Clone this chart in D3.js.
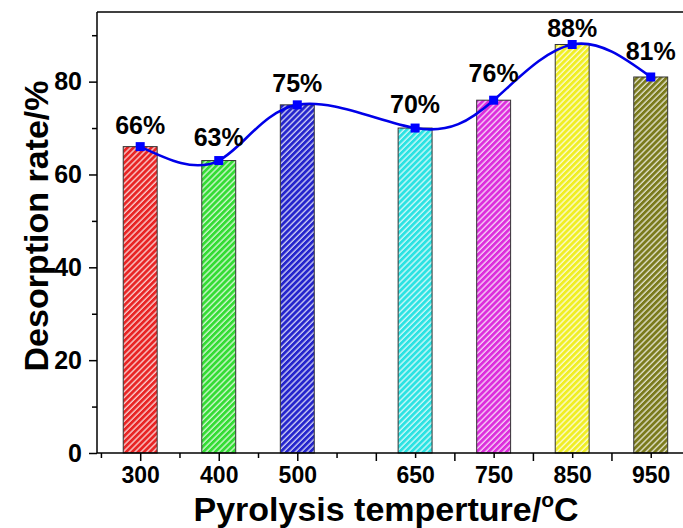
<!DOCTYPE html>
<html>
<head>
<meta charset="utf-8">
<script src="https://cdn.jsdelivr.net/npm/d3@7"></script>
<style>
  body { margin: 0; background: #fff; }
  text { font-family: Arial, "Liberation Sans", sans-serif; font-weight: bold; }
</style>
</head>
<body>
<div id="chart"></div>
<script>
// pyrolysis temperature (°C) and desorption rate (%)
const temps = [300, 400, 500, 650, 750, 850, 950];
const rates = [66, 63, 75, 70, 76, 88, 81];
const barColors = ["#e82424", "#34dc34", "#2424cc", "#2ce2e2", "#dc2edc", "#f0ee24", "#7a7a1c"];
const labelDy = [13, 15, 13, 15, 18, 7, 17];
const yTickValues = [0, 10, 20, 30, 40, 50, 60, 70, 80, 90];
const xTickValues = [250, 300, 350, 400, 450, 500, 550, 600, 650, 700, 750, 800, 850, 900, 950];

const W = 683, H = 528;
const margin = ({ top: 12, right: -7, bottom: 75, left: 97 });

const svg = d3.select("#chart").append("svg")
    .attr("width", W)
    .attr("height", H);

const xScale = d3.scaleLinear()
    .domain([245, 1000])
    .range([margin.left, W - margin.right]);

const yScale = d3.scaleLinear()
    .domain([0, 95])
    .range([H - margin.bottom, margin.top]);

const data = temps.map((t, i) => ({ t: t, r: rates[i], c: barColors[i], dy: labelDy[i] }));

// hatch patterns
const defs = svg.append("defs");
data.forEach((d, i) => {
    const p = defs.append("pattern")
        .attr("id", "hatch" + i)
        .attr("patternUnits", "userSpaceOnUse")
        .attr("width", 4.2)
        .attr("height", 4.2)
        .attr("patternTransform", "rotate(45)");
    p.append("rect")
        .attr("width", 4.2)
        .attr("height", 4.2)
        .attr("fill", d3.interpolateRgb(d.c, "#fff")(0.75));
    p.append("line")
        .attr("x1", 1.4).attr("x2", 1.4)
        .attr("y1", 0).attr("y2", 4.2)
        .attr("stroke", d.c)
        .attr("stroke-width", 2.8);
});

const halfBar = 21.6; // in temperature units

svg.append("g")
    .selectAll("rect")
    .data(data)
    .join("rect")
    .attr("x", d => xScale(d.t - halfBar))
    .attr("width", d => xScale(d.t + halfBar) - xScale(d.t - halfBar))
    .attr("y", d => yScale(d.r))
    .attr("height", d => yScale(0) - yScale(d.r))
    .attr("fill", (d, i) => `url(#hatch${i})`)
    .attr("stroke", "#333")
    .attr("stroke-width", 1);

// axes
const xAxis = d3.axisBottom(xScale)
    .tickValues(xTickValues)
    .tickSizeOuter(0)
    .tickFormat(d => d);

const gx = svg.append("g")
    .attr("transform", `translate(0, ${yScale(0)})`)
    .call(xAxis);
gx.select(".domain").attr("stroke-width", 1.5).attr("d", `M${margin.left},0H${W}`);
gx.selectAll(".tick line")
    .attr("stroke-width", 1.5)
    .attr("y2", d => d % 100 === 0 ? 8 : 5);
gx.selectAll(".tick text")
    .filter(d => !temps.includes(d))
    .remove();
gx.selectAll(".tick text")
    .attr("y", 14)
    .attr("font-size", 23)
    .attr("fill", "#000");

const yAxis = d3.axisLeft(yScale)
    .tickValues(yTickValues)
    .tickSizeOuter(0)
    .tickFormat(d => d);

const gy = svg.append("g")
    .attr("transform", `translate(${margin.left}, 0)`)
    .call(yAxis);
gy.select(".domain").attr("stroke-width", 1.5).attr("d", `M0,${yScale(0)}V${margin.top}`);
gy.selectAll(".tick line")
    .attr("stroke-width", 1.5)
    .attr("x2", d => d % 20 === 0 ? -8 : -5);
gy.selectAll(".tick text")
    .filter(d => d % 20 !== 0)
    .remove();
gy.selectAll(".tick text")
    .attr("x", -15)
    .attr("font-size", 25)
    .attr("fill", "#000");

// top frame line
svg.append("line")
    .attr("x1", margin.left).attr("x2", W)
    .attr("y1", margin.top).attr("y2", margin.top)
    .attr("stroke", "#000")
    .attr("stroke-width", 1.5);

// spline
const line = d3.line()
    .curve(d3.curveNatural)
    .x(d => xScale(d.t))
    .y(d => yScale(d.r));

svg.append("path")
    .datum(data)
    .attr("fill", "none")
    .attr("stroke", "#0000e8")
    .attr("stroke-width", 2.6)
    .attr("d", line);

svg.append("g")
    .selectAll("rect")
    .data(data)
    .join("rect")
    .attr("x", d => xScale(d.t) - 4.5)
    .attr("y", d => yScale(d.r) - 4.5)
    .attr("width", 9)
    .attr("height", 9)
    .attr("fill", "#0000ff");

// value labels
svg.append("g")
    .selectAll("text")
    .data(data)
    .join("text")
    .attr("x", d => xScale(d.t))
    .attr("y", d => yScale(d.r) - d.dy)
    .attr("text-anchor", "middle")
    .attr("font-size", 25)
    .text(d => d.r + "%");

// axis titles
const xt = svg.append("text")
    .attr("x", 386)
    .attr("y", 521)
    .attr("text-anchor", "middle")
    .attr("font-size", 34);
xt.append("tspan").text("Pyrolysis temperture/");
xt.append("tspan").attr("font-size", 21).attr("dy", -14).text("o");
xt.append("tspan").attr("dy", 14).text("C");

svg.append("text")
    .attr("transform", `translate(48, 226) rotate(-90)`)
    .attr("text-anchor", "middle")
    .attr("font-size", 34)
    .text("Desorption rate/%");
</script>
</body>
</html>
